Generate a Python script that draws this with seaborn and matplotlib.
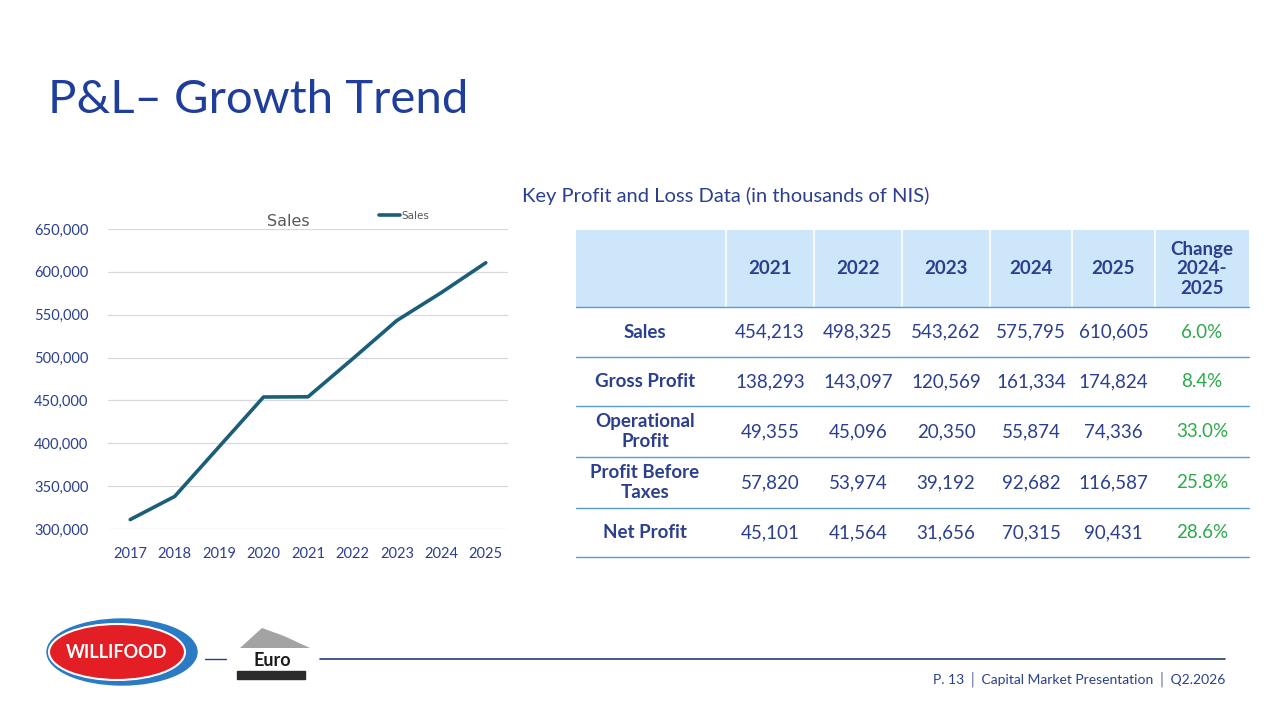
import numpy as np
import pandas as pd
import matplotlib.pyplot as plt
import matplotlib.patches as mpatches
import seaborn as sns
from matplotlib.ticker import FuncFormatter

# ─── Data ─────────────────────────────────────────────────────────────────────
years = [2017, 2018, 2019, 2020, 2021, 2022, 2023, 2024, 2025]
sales = [311000, 338000, 396000, 454000, 454213, 498325, 543262, 575795, 610605]

tbl_years  = ['2021', '2022', '2023', '2024', '2025']
row_labels = ['Sales', 'Gross Profit', 'Operational\nProfit', 'Profit Before\nTaxes', 'Net Profit']
tbl_values = [
    ['454,213', '498,325', '543,262', '575,795', '610,605'],
    ['138,293', '143,097', '120,569', '161,334', '174,824'],
    ['49,355',  '45,096',  '20,350',  '55,874',  '74,336'],
    ['57,820',  '53,974',  '39,192',  '92,682',  '116,587'],
    ['45,101',  '41,564',  '31,656',  '70,315',  '90,431'],
]
changes = ['6.0%', '8.4%', '33.0%', '25.8%', '28.6%']

BLUE  = '#1F3E9C'
TEXT  = '#2B3F8F'
LINE  = '#1B5E7A'
GREEN = '#2BAA4A'

sns.set_theme(style='white')
plt.rcParams['font.family'] = ['Lato', 'DejaVu Sans']

fig = plt.figure(figsize=(12.8, 7.2), dpi=100)

# overlay in pixel coords for slide elements
ov = fig.add_axes([0, 0, 1, 1])
ov.set_xlim(0, 1280); ov.set_ylim(720, 0); ov.axis('off')

ov.text(48, 100, 'P&L– Growth Trend', fontsize=34, color=BLUE, va='center', ha='left')
ov.text(522, 196, 'Key Profit and Loss Data (in thousands of NIS)', fontsize=14.5,
        color=TEXT, va='center')

# ─── Line chart ───────────────────────────────────────────────────────────────
ax = fig.add_axes([108/1280, 1 - 529/720, 400/1280, 300/720])
df = pd.DataFrame({'Year': years, 'Sales': sales})
sns.lineplot(data=df, x='Year', y='Sales', ax=ax, color=LINE, lw=2.6, label='Sales')
ax.set_xlim(2016.5, 2025.5)
ax.set_ylim(300000, 650000)
ax.set_yticks(range(300000, 650001, 50000))
ax.set_xticks(years)
ax.yaxis.set_major_formatter(FuncFormatter(lambda v, _: f'{int(v):,}'))
ax.grid(axis='y', color='#D9D9D9', lw=0.9)
ax.set_axisbelow(True)
for s in ax.spines.values():
    s.set_visible(False)
ax.tick_params(axis='x', length=0, labelsize=10.5, labelcolor=TEXT, pad=13)
ax.tick_params(axis='y', length=0, labelsize=10.5, labelcolor=TEXT, pad=14)
ax.set_xlabel(''); ax.set_ylabel('')
ax.text(0.45, 1.025, 'Sales', transform=ax.transAxes, fontsize=11.5, color='#595959',
        ha='center', va='center', family=['DejaVu Sans'])
leg = ax.legend(loc='lower left', bbox_to_anchor=(0.665, 1.01), frameon=False,
                fontsize=7.5, handlelength=2.0, handletextpad=0.1, borderpad=0)
for t in leg.get_texts():
    t.set_color('#595959'); t.set_family(['DejaVu Sans'])

# ─── Table ────────────────────────────────────────────────────────────────────
col_edges = [576, 726, 814, 902, 990, 1072, 1155, 1249]
row_edges = [230, 307, 357, 406, 457, 508, 557]
ov.add_patch(mpatches.Rectangle((576, 230), 1249 - 576, 77, color='#CDE6FA', lw=0))
for xe in col_edges[1:-1]:
    ov.plot([xe, xe], [230, 307], color='white', lw=1.2)
for ye in row_edges[1:]:
    ov.plot([576, 1249], [ye, ye], color='#5B9BD5', lw=1.0)

hdr = tbl_years + ['Change\n2024-\n2025']
for i, h in enumerate(hdr):
    cx = (col_edges[i + 1] + col_edges[i + 2]) / 2
    ov.text(cx, 269, h, ha='center', va='center', fontsize=13.5, color=TEXT,
            fontweight='bold', linespacing=1.15)
for r in range(len(row_labels)):
    cy = (row_edges[r + 1] + row_edges[r + 2]) / 2
    ov.text(645, cy, row_labels[r], ha='center', va='center', fontsize=13.5,
            color=TEXT, fontweight='bold', linespacing=1.15)
    for c, v in enumerate(tbl_values[r]):
        cx = (col_edges[c + 1] + col_edges[c + 2]) / 2
        ov.text(cx, cy, v, ha='center', va='center', fontsize=13.5, color=TEXT)
    ov.text(1202, cy, changes[r], ha='center', va='center', fontsize=13.5, color=GREEN)

# ─── Footer / logos ───────────────────────────────────────────────────────────
ov.plot([205, 226], [659, 659], color=BLUE, lw=1)
ov.plot([320, 1225], [659, 659], color='#1F3E7A', lw=1.2)
ov.text(1225, 679, 'P. 13 │ Capital Market Presentation │ Q2.2026', ha='right',
        va='center', fontsize=10, color=TEXT)
ov.add_patch(mpatches.Ellipse((122, 652), 150, 66, color='#2A7BC4'))
ov.add_patch(mpatches.Ellipse((117, 652), 136, 56, color='#E31E24', ec='white', lw=1.5))
ov.text(117, 652, 'WILLIFOOD', ha='center', va='center', fontsize=13,
        color='white', fontweight='bold')
ov.text(272, 660, 'Euro', ha='center', va='center', fontsize=13,
        color='#1a1a1a', fontweight='bold')
ov.add_patch(mpatches.Rectangle((237, 671), 68, 8, color='#2a2a2a'))
ov.add_patch(mpatches.Polygon([(240, 648), (262, 628), (284, 636), (310, 648)],
                              closed=True, color='#666666', alpha=0.6, lw=0))

fig.savefig('out.png', dpi=100)
